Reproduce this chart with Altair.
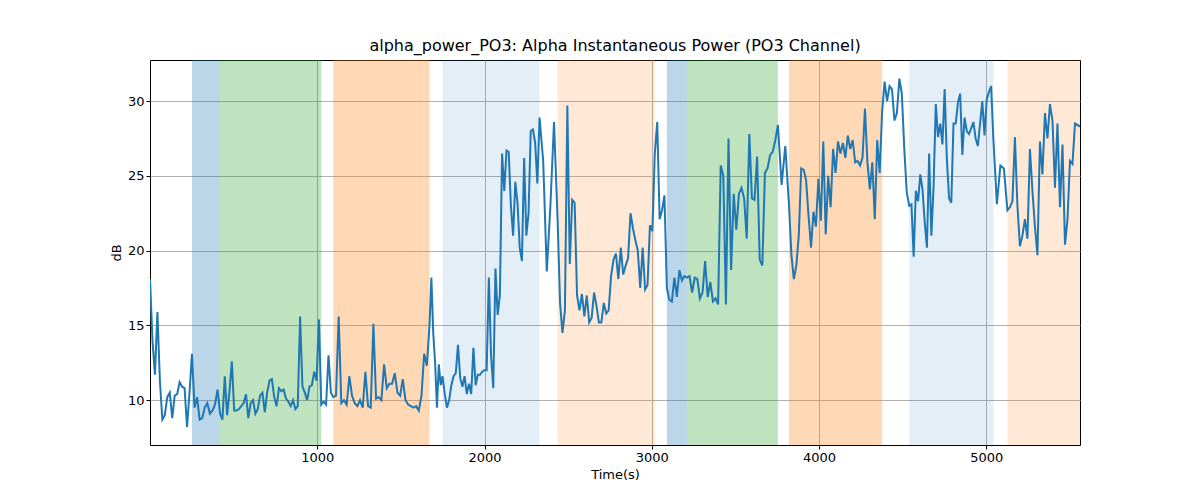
import altair as alt
import pandas as pd

# band spans (seconds) and their colours / opacities
span_start = [251, 419, 1096, 1749, 2437, 3090, 3210, 3820, 4539, 5126]
span_end = [419, 1024, 1671, 2329, 3018, 3210, 3754, 4377, 5042, 5560]
span_color = ["#1f77b4", "#2ca02c", "#ff7f0e", "#1f77b4", "#ff7f0e",
              "#1f77b4", "#2ca02c", "#ff7f0e", "#1f77b4", "#ff7f0e"]
span_alpha = [0.3, 0.3, 0.3, 0.12, 0.17, 0.3, 0.3, 0.3, 0.12, 0.17]

# signal, read segment by segment: (start, end, values)
segments = [
    (0, 251, [18.1, 14, 11.7, 15.9, 11.3, 8.7, 9, 10.2, 10.5, 8.8, 10.3, 10.4, 11.2, 10.9, 10.8, 8.2, 10.5]),
    (251, 419, [13.1, 9.5, 10.2, 8.7, 8.8, 9.5, 9.8, 9.1, 9.3, 9.7, 10.7]),
    (419, 1024, [9.1, 8.7, 11.6, 9.0, 10.6, 12.6, 9.3, 9.3, 9.4, 9.6, 9.8, 10.4, 8.8, 9.8, 10.0, 9.1, 9.4,
                 10.3, 10.5, 9.2, 10.5, 11.3, 11.4, 10.2, 9.6, 10.8, 10.6, 10.7, 10.1, 9.9, 9.6, 10.0,
                 9.4, 9.6, 15.6, 10.9, 10.5, 10.0, 10.9, 11.0, 11.9, 11.3, 15.4]),
    (1024, 1096, [9.7, 9.9, 9.7, 13.0, 10.5]),
    (1096, 1671, [10.2, 10.3, 15.6, 9.8, 10.0, 9.7, 11.6, 10.3, 9.8, 9.6, 10.0, 9.5, 11.9, 9.6, 9.5, 15.1,
                  10.1, 10.2, 10.0, 12.4, 10.8, 11.1, 11.1, 11.8, 10.5, 10.3, 11.4, 10.0, 9.7, 9.6, 9.5,
                  9.6, 9.3, 10.3, 13.1, 12.3]),
    (1671, 1749, [15.0, 18.2, 14.5, 12.5, 9.5, 12.4, 11.0]),
    (1749, 2329, [11.6, 10.4, 9.5, 10.0, 11.0, 11.6, 11.8, 13.7, 11.5, 10.9, 11.6, 10.4, 11.1, 10.4, 13.5,
                  11.0, 11.7, 11.7, 11.9, 12.0, 12.0, 18.2, 13.0, 10.8, 18.8, 15.7, 17.0, 26.5, 24.0, 26.7,
                  26.6, 23.0, 21.0, 24.6, 23.2, 20.2, 19.3, 26.2, 21.0, 22.5, 28.0, 28.1, 27.2, 24.5]),
    (2329, 2437, [28.9, 26.0, 18.6, 23.0, 28.6]),
    (2437, 3018, [22.0, 16.5, 14.5, 16.0, 29.7, 19.1, 23.4, 23.2, 17.0, 16.0, 17.1, 15.6, 17.0, 15.2, 15.5,
                  17.2, 16.3, 15.2, 15.2, 16.5, 15.8, 16.0, 18.3, 19.4, 19.8, 18.1, 20.2, 18.4, 19.0, 19.5,
                  22.5, 21.5, 20.7, 20.0, 17.5, 20.2, 17.4, 17.7, 21.7, 21.3]),
    (3018, 3090, [26.5, 28.6, 22.1, 22.7, 23.7]),
    (3090, 3210, [17.5, 16.7, 16.6, 18.2, 16.9, 18.7, 18.0, 18.3]),
    (3210, 3754, [18.2, 18.3, 17.2, 18.2, 18.1, 16.8, 17.2, 19.3, 16.9, 17.9, 16.6, 16.8, 16.4, 25.7, 25.0,
                  16.4, 27.5, 18.7, 23.8, 21.4, 23.8, 24.2, 23.5, 20.8, 27.8, 23.5, 23.4, 26.3, 19.4, 19.0,
                  25.2, 25.5, 26.4, 26.6, 27.4]),
    (3754, 3820, [28.4, 24.4, 27.0]),
    (3820, 4377, [23.1, 19.7, 18.1, 19.0, 21.0, 25.5, 25.4, 24.7, 22.3, 20.2, 22.6, 21.6, 24.8, 22.0, 27.3,
                  21.1, 25.0, 22.9, 26.8, 25.2, 27.3, 26.5, 27.2, 26.2, 27.7, 26.8, 27.4, 25.9, 26.0, 25.7,
                  26.2, 29.5, 25.9, 24.1, 25.9, 22.1, 27.4, 25.2]),
    (4377, 4539, [29.3, 31.3, 30.0, 31.0, 30.8, 28.7, 29.2, 31.5, 30.5, 26.8, 23.9]),
    (4539, 5042, [23.0, 23.1, 19.6, 24.0, 23.3, 25.1, 24.1, 21.9, 20.2, 26.5, 21.0, 24.3, 29.8, 27.6, 28.5,
                  27.1, 30.8, 26.1, 23.5, 23.2, 28.5, 28.5, 29.9, 30.5, 26.4, 28.9, 28.0, 27.8, 28.2, 28.6,
                  27.5, 27.0, 28.5, 30.0, 27.7, 30.1, 30.6, 31.0]),
    (5042, 5126, [27.5, 23.1, 25.7, 25.5]),
    (5126, 5560, [22.7, 22.9, 23.3, 27.6, 23.0, 20.3, 21.0, 22.1, 20.8, 26.8, 24.0, 21.6, 19.7, 27.3, 25.1,
                  29.2, 27.5, 29.8, 28.7, 24.2, 28.5, 22.9, 27.1, 20.4, 22.1, 26.0, 25.8, 28.5, 28.3]),
]

rows = []
for start, end, vals in segments:
    step = (end - start) / len(vals)
    for i, v in enumerate(vals):
        rows.append({"t": start + i * step, "db": v})
rows[-1]["t"] = 5560
signal = pd.DataFrame(rows)

spans = pd.DataFrame({"start": span_start, "end": span_end, "color": span_color, "alpha": span_alpha})

x_scale = alt.Scale(domain=[0, 5560], nice=False, zero=False)
y_scale = alt.Scale(domain=[7, 32.75], nice=False, zero=False)

bands = alt.Chart(spans).mark_rect().encode(
    x=alt.X("start:Q", scale=x_scale),
    x2="end:Q",
    y=alt.value(0),
    y2=alt.value(385),
    color=alt.Color("color:N", scale=None),
    opacity=alt.Opacity("alpha:Q", scale=None),
)

line = alt.Chart(signal).mark_line(color="#1f77b4", strokeWidth=2, clip=True).encode(
    x=alt.X("t:Q", scale=x_scale, title="Time(s)",
            axis=alt.Axis(values=[1000, 2000, 3000, 4000, 5000], format="d")),
    y=alt.Y("db:Q", scale=y_scale, title="dB",
            axis=alt.Axis(values=[10, 15, 20, 25, 30], format="d")),
)

chart = (
    alt.layer(bands, line)
    .properties(
        width=930,
        height=385,
        title="alpha_power_PO3: Alpha Instantaneous Power (PO3 Channel)",
        autosize=alt.AutoSizeParams(type="none"),
        padding={"left": 142, "top": 52, "right": 100, "bottom": 50},
    )
    .configure_view(stroke="black", strokeWidth=1)
    .configure_axis(
        grid=True, gridColor="#b0b0b0", gridWidth=1, domain=False,
        tickColor="black", tickSize=4, labelFontSize=13, titleFontSize=13,
        labelFont="DejaVu Sans", titleFont="DejaVu Sans", titleFontWeight="normal",
        labelColor="black", titleColor="black",
    )
    .configure_axisX(titlePadding=4)
    .configure_title(fontSize=16, font="DejaVu Sans", fontWeight="normal", offset=6)
)

chart.save("out.html", embed_options={"renderer": "svg", "actions": False})
